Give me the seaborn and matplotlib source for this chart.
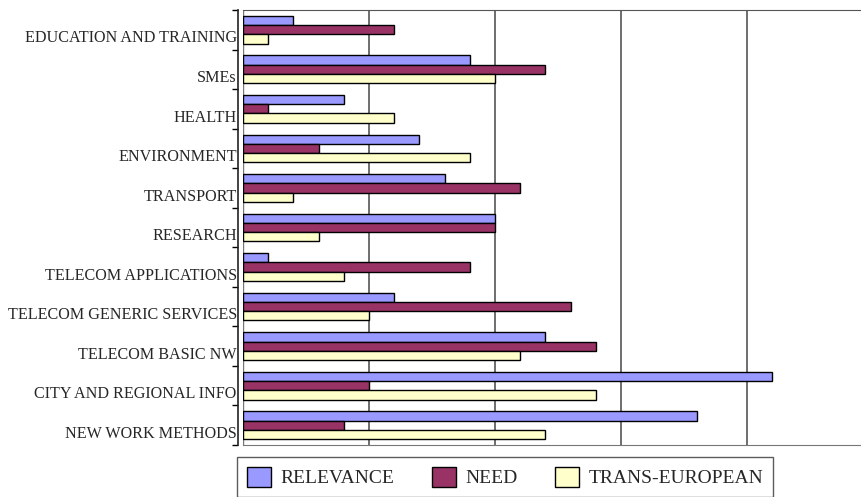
import numpy as np
import pandas as pd
import matplotlib
matplotlib.use("Agg")
import matplotlib.pyplot as plt
import seaborn as sns

categories = ["EDUCATION AND TRAINING", "SMEs", "HEALTH", "ENVIRONMENT", "TRANSPORT",
              "RESEARCH", "TELECOM APPLICATIONS", "TELECOM GENERIC SERVICES",
              "TELECOM BASIC NW", "CITY AND REGIONAL INFO", "NEW WORK METHODS"]
relevance = [2, 9, 4, 7, 8, 10, 1, 6, 12, 21, 18]
need = [6, 12, 1, 3, 11, 10, 9, 13, 14, 5, 4]
trans_european = [1, 10, 6, 9, 2, 3, 4, 5, 11, 14, 12]
series = ["RELEVANCE", "NEED", "TRANS-EUROPEAN"]
colors = ["#9999FF", "#993366", "#FFFFCC"]

df = pd.DataFrame({
    "category": categories * 3,
    "value": relevance + need + trans_european,
    "series": [series[0]] * len(categories) + [series[1]] * len(categories) + [series[2]] * len(categories),
})

sns.set_style("white")
plt.rcParams['font.family'] = ['Liberation Serif', 'DejaVu Serif']

fig = plt.figure(figsize=(8.61, 4.97), dpi=100)
ax = fig.add_axes([243 / 861, 52 / 497, 618 / 861, 435 / 497])

sns.barplot(data=df, x="value", y="category", hue="series", order=categories,
            hue_order=series, palette=colors, saturation=1, orient="h", width=0.7,
            edgecolor="black", linewidth=1.0, ax=ax, zorder=3, legend=True)

ax.set_xlim(0, 618 / 25.2)
ax.set_ylim(len(categories) - 0.5, -0.5)
ax.set_xticks([5, 10, 15, 20])
ax.set_xticklabels([])
ax.tick_params(axis="x", length=0)
ax.grid(axis="x", color="#555555", linewidth=1.2, zorder=0)
ax.set_xlabel("")
ax.set_ylabel("")

ax.set_yticks(np.arange(len(categories)) + 0.17)
ax.set_yticklabels(categories)
ax.set_yticks(np.arange(len(categories) + 1) - 0.5, minor=True)
ax.tick_params(axis="y", which="major", length=0, pad=1, labelsize=11.6)
ax.tick_params(axis="y", which="minor", length=4, width=1, color="black", left=True)
for t in ax.get_yticklabels():
    t.set_fontsize(11.6)

ax.spines["right"].set_visible(False)
ax.spines["top"].set_color("#555555")
ax.spines["bottom"].set_color("#777777")
ax.spines["left"].set_position(("outward", 3.5))
ax.spines["left"].set_color("#222222")
ax.spines["left"].set_linewidth(1.2)
ax.axvline(0, color="#777777", linewidth=1.0, zorder=2)

handles, labels = ax.get_legend_handles_labels()
ax.legend_.remove()
leg = fig.legend(handles, labels, loc="upper left", bbox_to_anchor=(237 / 861, 1 - 457 / 497),
                 ncol=3, fontsize=14, frameon=True, fancybox=False, edgecolor="#333333",
                 handlelength=1.25, handleheight=1.2, handletextpad=0.5, columnspacing=1.9,
                 borderpad=0.5, borderaxespad=0)
leg.get_frame().set_linewidth(1.0)
for h in leg.legend_handles:
    h.set_edgecolor("black")
    h.set_linewidth(1.0)

fig.savefig("out.png", dpi=100, facecolor="white")
